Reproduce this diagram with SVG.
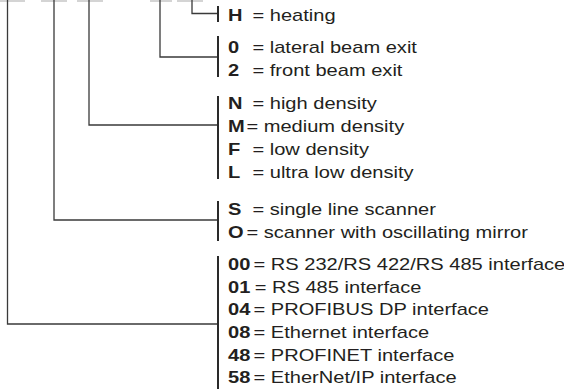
<svg xmlns="http://www.w3.org/2000/svg" width="564" height="389" viewBox="0 0 564 389">
<style>
.box{fill:#d4d4d4}
.conn{fill:none;stroke:#3a3a3a;stroke-width:1.3}
.bar{fill:#2a2a2a}
.k{font-family:"Liberation Sans",Arial,sans-serif;font-size:16.6px;font-weight:bold;fill:#231f20}
.d{font-family:"Liberation Sans",Arial,sans-serif;font-size:16.6px;fill:#231f20}
</style>
<rect width="564" height="389" fill="#ffffff"/>
<g id="code-boxes">
<rect class="box" x="0" y="0" width="25" height="2"/>
<rect class="box" x="41" y="0" width="26" height="2"/>
<rect class="box" x="77" y="0" width="26" height="2"/>
<rect class="box" x="150" y="0" width="22" height="2"/>
<rect class="box" x="177" y="0" width="26" height="2"/>
</g>
<g id="connectors">
<polyline class="conn" points="192,0 192,13.5 218,13.5"/>
<polyline class="conn" points="160,0 160,57 218,57"/>
<polyline class="conn" points="89,0 89,125 218,125"/>
<polyline class="conn" points="54,0 54,220 218,220"/>
<polyline class="conn" points="7.5,0 7.5,324 218,324"/>
</g>
<g id="heating">
<rect class="bar" x="217" y="6" width="2" height="16"/>
<g transform="translate(228,0) scale(1.21,1)">
<text class="k" x="0" y="21.5">H</text><text class="d" x="20.2" y="21.5">= heating</text>
</g>
</g>
<g id="beam-exit">
<rect class="bar" x="217" y="36" width="2" height="41"/>
<g transform="translate(228,0) scale(1.21,1)">
<text class="k" x="0" y="53">0</text><text class="d" x="20.2" y="53">= lateral beam exit</text>
<text class="k" x="0" y="76">2</text><text class="d" x="20.2" y="76">= front beam exit</text>
</g>
</g>
<g id="density">
<rect class="bar" x="217" y="96" width="2" height="83"/>
<g transform="translate(228,0) scale(1.21,1)">
<text class="k" x="0" y="109">N</text><text class="d" x="20.2" y="109">= high density</text>
<text class="k" x="0" y="132">M</text><text class="d" x="15.2" y="132">= medium density</text>
<text class="k" x="0" y="155">F</text><text class="d" x="20.2" y="155">= low density</text>
<text class="k" x="0" y="178">L</text><text class="d" x="20.2" y="178">= ultra low density</text>
</g>
</g>
<g id="scanner">
<rect class="bar" x="217" y="201" width="2" height="40"/>
<g transform="translate(228,0) scale(1.21,1)">
<text class="k" x="0" y="215">S</text><text class="d" x="20.2" y="215">= single line scanner</text>
<text class="k" x="0" y="238">O</text><text class="d" x="15.2" y="238">= scanner with oscillating mirror</text>
</g>
</g>
<g id="interface">
<rect class="bar" x="217" y="256" width="2" height="133"/>
<g transform="translate(228,0) scale(1.21,1)">
<text class="k" x="0" y="270">00</text><text class="d" x="21.1" y="270">= RS 232/RS 422/RS 485 interface</text>
<text class="k" x="0" y="293">01</text><text class="d" x="22.1" y="293">= RS 485 interface</text>
<text class="k" x="0" y="315.5">04</text><text class="d" x="21.1" y="315.5">= PROFIBUS DP interface</text>
<text class="k" x="0" y="338">08</text><text class="d" x="21.1" y="338">= Ethernet interface</text>
<text class="k" x="0" y="361">48</text><text class="d" x="21.1" y="361">= PROFINET interface</text>
<text class="k" x="0" y="383.5">58</text><text class="d" x="21.1" y="383.5">= EtherNet/IP interface</text>
</g>
</g>
</svg>
